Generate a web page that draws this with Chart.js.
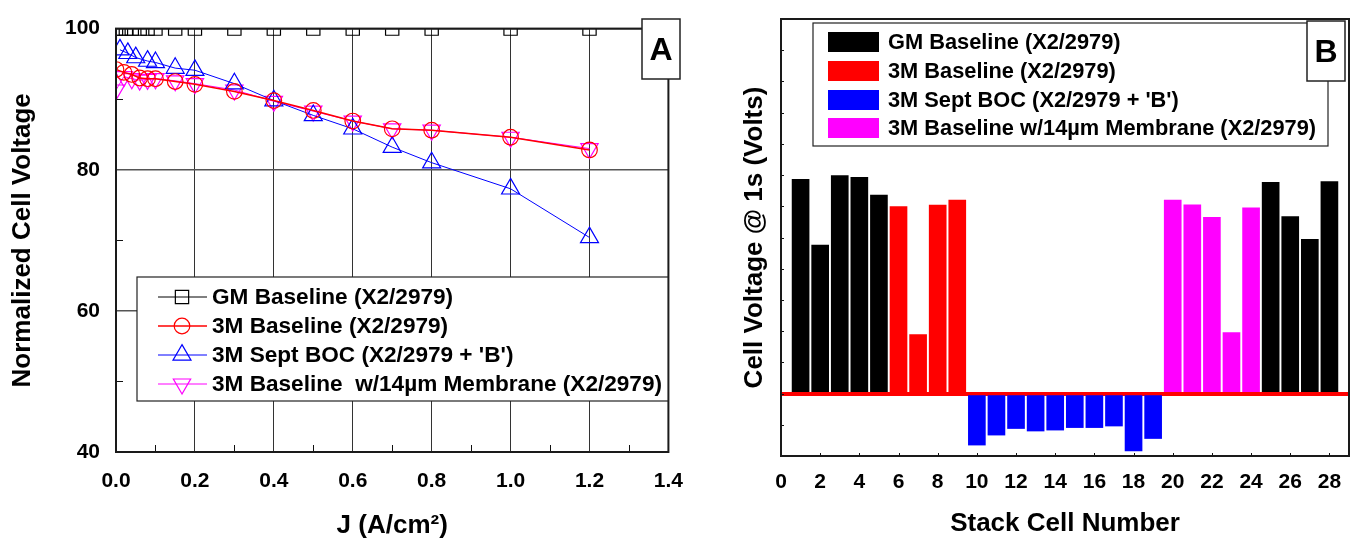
<!DOCTYPE html>
<html>
<head>
<meta charset="utf-8">
<script src="https://cdn.jsdelivr.net/npm/chart.js@4.4.1/dist/chart.umd.min.js"></script>
<style>
  html, body { margin: 0; padding: 0; background: #fff; }
  #wrap { position: relative; width: 1361px; height: 543px; overflow: hidden; }
  #chartA { position: absolute; left: 0; top: 0; }
  #chartB { position: absolute; left: 730px; top: 0; }
</style>
</head>
<body>
<div id="wrap">
  <canvas id="chartA" width="700" height="543"></canvas>
  <canvas id="chartB" width="631" height="543"></canvas>
</div>
<script>
// --- Panel A : normalized cell voltage vs current density ---
const jTicks = [0, 0.1, 0.2, 0.3, 0.4, 0.5, 0.6, 0.7, 0.8, 0.9, 1.0, 1.1, 1.2, 1.3, 1.4];
const jLabelled = [0, 0.2, 0.4, 0.6, 0.8, 1.0, 1.2, 1.4];
const voltTicks = [40, 50, 60, 70, 80, 90, 100];
const voltLabelled = [40, 60, 80, 100];

const gmJ = [0, 0.0125, 0.025, 0.04, 0.06, 0.08, 0.1, 0.15, 0.2, 0.3, 0.4, 0.5, 0.6, 0.7, 0.8, 1.0, 1.2];
const gmV = [100, 100, 100, 100, 100, 100, 100, 100, 100, 100, 100, 100, 100, 100, 100, 100, 100];
const baseJ = [0, 0.02, 0.04, 0.06, 0.08, 0.1, 0.15, 0.2, 0.3, 0.4, 0.5, 0.6, 0.7, 0.8, 1.0, 1.2];
const baseV = [94.2, 93.8, 93.5, 93.0, 92.9, 92.9, 92.5, 92.1, 91.1, 89.8, 88.4, 86.9, 85.8, 85.6, 84.6, 82.8];
const bocJ = [0.01, 0.03, 0.05, 0.08, 0.1, 0.15, 0.2, 0.3, 0.4, 0.5, 0.6, 0.7, 0.8, 1.0, 1.2];
const bocV = [97.0, 96.5, 95.9, 95.4, 95.2, 94.4, 94.1, 92.2, 89.8, 87.7, 85.8, 83.2, 81.0, 77.3, 70.4];
const memJ = [0, 0.02, 0.04, 0.06, 0.08, 0.1, 0.15, 0.2, 0.3, 0.4, 0.5, 0.6, 0.7, 0.8, 1.0, 1.2];
const memV = [91.3, 93.2, 92.9, 92.7, 92.8, 92.9, 92.6, 92.2, 91.3, 89.7, 88.3, 86.9, 85.8, 85.6, 84.6, 83.0];

// --- Panel B : cell voltage per stack cell (arbitrary units, baseline = 0) ---
const cellTicks = [0, 2, 4, 6, 8, 10, 12, 14, 16, 18, 20, 22, 24, 26, 28];
const cellVoltTicks = [-2, -1, 0, 1, 2, 3, 4, 5, 6, 7, 8, 9, 10, 11, 12];
const gmCells = [1, 2, 3, 4, 5, 25, 26, 27, 28];
const gmCellV = [6.86, 4.76, 6.98, 6.93, 6.36, 6.77, 5.67, 4.94, 6.79];
const baseCells = [6, 7, 8, 9];
const baseCellV = [5.99, 1.89, 6.04, 6.20];
const bocCells = [10, 11, 12, 13, 14, 15, 16, 17, 18, 19];
const bocCellV = [-1.65, -1.33, -1.12, -1.20, -1.17, -1.09, -1.09, -1.04, -1.84, -1.44];
const memCells = [20, 21, 22, 23, 24];
const memCellV = [6.20, 6.05, 5.65, 1.95, 5.95];

const FONT = '"Liberation Sans", Arial, Helvetica, sans-serif';
Chart.defaults.font.family = FONT;
Chart.defaults.color = '#000';

const pts = (xs, ys) => xs.map((x, i) => ({ x: x, y: ys[i] }));
const NONE = 'rgba(0,0,0,0)';

// chart border + small inward ticks
const frame = {
    id: 'frame',
    afterDatasetsDraw(chart, args, opts) {
        const { ctx, chartArea: a, scales: { x, y } } = chart;
        ctx.save();
        ctx.strokeStyle = '#111';
        ctx.lineWidth = 1;
        ctx.beginPath();
        x.ticks.forEach(t => {
            if (opts.xMajor.includes(t.value)) return;
            const px = Math.round(x.getPixelForValue(t.value)) + 0.5;
            ctx.moveTo(px, a.bottom);
            ctx.lineTo(px, a.bottom - opts.len);
        });
        y.ticks.forEach(t => {
            if (opts.yMajor.includes(t.value)) return;
            const py = Math.round(y.getPixelForValue(t.value)) + 0.5;
            ctx.moveTo(a.left, py);
            ctx.lineTo(a.left + opts.len, py);
        });
        ctx.stroke();
        ctx.lineWidth = 2;
        ctx.strokeStyle = '#1a1a1a';
        ctx.strokeRect(a.left, a.top, a.right - a.left, a.bottom - a.top);
        ctx.restore();
    }
};

// boxed legend and panel letter
const boxLegend = {
    id: 'boxLegend',
    afterDraw(chart, args, opts) {
        const ctx = chart.ctx;
        ctx.save();
        ctx.fillStyle = '#fff';
        ctx.fillRect(opts.x, opts.y, opts.w, opts.h);
        ctx.strokeStyle = '#222';
        ctx.lineWidth = 1.2;
        ctx.strokeRect(opts.x, opts.y, opts.w, opts.h);
        chart.data.datasets.forEach((ds, i) => {
            const y = opts.rows[i];
            if (opts.kind === 'line') {
                ctx.strokeStyle = ds.borderColor;
                ctx.lineWidth = ds.borderWidth;
                ctx.beginPath();
                ctx.moveTo(opts.lineX[0], y);
                ctx.lineTo(opts.lineX[1], y);
                ctx.stroke();
                ctx.fillStyle = NONE;
                ctx.lineWidth = ds.pointBorderWidth;
                Chart.helpers.drawPoint(ctx, {
                    pointStyle: ds.pointStyle,
                    rotation: ds.pointRotation || 0,
                    radius: ds.pointRadius,
                    borderWidth: ds.pointBorderWidth
                }, opts.markX, y);
            } else {
                ctx.fillStyle = ds.backgroundColor;
                ctx.fillRect(opts.swX, y - opts.swH / 2, opts.swW, opts.swH);
            }
            ctx.fillStyle = '#000';
            ctx.font = 'bold ' + opts.size + 'px ' + FONT;
            ctx.textBaseline = 'middle';
            ctx.textAlign = 'left';
            ctx.fillText(ds.label, opts.textX, y + 1);
        });
        const t = opts.tag;
        ctx.fillStyle = '#fff';
        ctx.fillRect(t.x, t.y, t.w, t.h);
        ctx.strokeStyle = '#222';
        ctx.lineWidth = 1.5;
        ctx.strokeRect(t.x, t.y, t.w, t.h);
        ctx.fillStyle = '#000';
        ctx.font = 'bold 32px ' + FONT;
        ctx.textAlign = 'center';
        ctx.textBaseline = 'middle';
        ctx.fillText(t.text, t.x + t.w / 2, t.y + t.h / 2 + 2);
        ctx.restore();
    }
};

const tickFont = { size: 21, weight: 'bold' };
const titleFont = { size: 26, weight: 'bold' };

new Chart(document.getElementById('chartA'), {
    type: 'line',
    data: {
        datasets: [
            {
                label: 'GM Baseline (X2/2979)',
                data: pts(gmJ, gmV),
                borderColor: '#000', borderWidth: 1,
                pointStyle: 'rect', pointRadius: 9.4, pointBorderWidth: 1.2,
                pointBorderColor: '#000', pointBackgroundColor: NONE,
                clip: 0
            },
            {
                label: '3M Baseline (X2/2979)',
                data: pts(baseJ, baseV),
                borderColor: '#ff0000', borderWidth: 1.5,
                pointStyle: 'circle', pointRadius: 7.8, pointBorderWidth: 1.2,
                pointBorderColor: '#ff0000', pointBackgroundColor: NONE
            },
            {
                label: "3M Sept BOC (X2/2979 + 'B')",
                data: pts(bocJ, bocV),
                borderColor: '#0000ff', borderWidth: 1,
                pointStyle: 'triangle', pointRadius: 10.4, pointBorderWidth: 1.2,
                pointBorderColor: '#0000ff', pointBackgroundColor: NONE
            },
            {
                label: '3M Baseline  w/14\u00b5m Membrane (X2/2979)',
                data: pts(memJ, memV),
                borderColor: '#ff00ff', borderWidth: 1,
                pointStyle: 'triangle', pointRotation: 180, pointRadius: 10, pointBorderWidth: 1.2,
                pointBorderColor: '#ff00ff', pointBackgroundColor: NONE
            }
        ]
    },
    options: {
        responsive: false,
        animation: false,
        events: [],
        layout: { padding: { top: 15, right: 16, left: 0, bottom: 0 } },
        plugins: {
            legend: { display: false },
            tooltip: { enabled: false },
            frame: { xMajor: jLabelled, yMajor: voltLabelled, len: 7 },
            boxLegend: {
                kind: 'line', x: 137, y: 277, w: 531, h: 124,
                rows: [297, 326, 355, 384], lineX: [158, 207], markX: 182, textX: 212, size: 22.6,
                tag: { text: 'A', x: 642, y: 19, w: 38, h: 60 }
            }
        },
        scales: {
            x: {
                type: 'linear', min: 0, max: 1.4,
                afterBuildTicks: s => { s.ticks = jTicks.map(v => ({ value: v })); },
                afterFit: s => { s.height = 91; },
                border: { display: false },
                grid: {
                    drawTicks: false,
                    lineWidth: 1,
                    color: c => (c.tick && jLabelled.includes(c.tick.value)) ? '#333' : NONE
                },
                ticks: {
                    autoSkip: false, maxRotation: 0, padding: 17, font: tickFont,
                    callback: v => jLabelled.includes(v) ? v.toFixed(1) : ''
                },
                title: { display: true, text: 'J (A/cm\u00b2)', font: titleFont, padding: { top: 0, bottom: 2 } }
            },
            y: {
                min: 40, max: 100,
                afterBuildTicks: s => { s.ticks = voltTicks.map(v => ({ value: v })); },
                afterFit: s => { s.width = 116; },
                border: { display: false },
                grid: {
                    drawTicks: false,
                    lineWidth: 1.5,
                    color: c => (c.tick && voltLabelled.includes(c.tick.value)) ? '#555' : NONE
                },
                ticks: {
                    autoSkip: false, padding: 16, font: tickFont,
                    callback: v => voltLabelled.includes(v) ? String(v) : ''
                },
                title: { display: true, text: 'Normalized Cell Voltage', font: titleFont, padding: { top: 7, bottom: 0 } }
            }
        }
    },
    plugins: [frame, boxLegend]
});

new Chart(document.getElementById('chartB'), {
    type: 'bar',
    data: {
        datasets: [
            { label: 'GM Baseline (X2/2979)', data: pts(gmCells, gmCellV), backgroundColor: '#000000' },
            { label: '3M Baseline (X2/2979)', data: pts(baseCells, baseCellV), backgroundColor: '#ff0000' },
            { label: "3M Sept BOC (X2/2979 + 'B')", data: pts(bocCells, bocCellV), backgroundColor: '#0000ff' },
            { label: '3M Baseline w/14\u00b5m Membrane (X2/2979)', data: pts(memCells, memCellV), backgroundColor: '#ff00ff' }
        ]
    },
    options: {
        responsive: false,
        animation: false,
        events: [],
        grouped: false,
        barThickness: 17,
        borderWidth: 0,
        layout: { padding: { top: 19, right: 12, left: 0, bottom: 0 } },
        plugins: {
            legend: { display: false },
            tooltip: { enabled: false },
            frame: { xMajor: [], yMajor: [], len: 3 },
            boxLegend: {
                kind: 'box', x: 83, y: 23, w: 515, h: 123,
                rows: [42, 71, 100, 128], swX: 98, swW: 51, swH: 20, textX: 158, size: 21.8,
                tag: { text: 'B', x: 577, y: 21, w: 38, h: 60 }
            }
        },
        scales: {
            x: {
                type: 'linear', min: 0, max: 29, offset: false,
                afterBuildTicks: s => { s.ticks = cellTicks.map(v => ({ value: v })); },
                afterFit: s => { s.height = 87; },
                border: { display: false },
                grid: { display: false, drawTicks: false, offset: false },
                ticks: { autoSkip: false, maxRotation: 0, padding: 14, font: tickFont },
                title: { display: true, text: 'Stack Cell Number', font: titleFont, padding: { top: 0, bottom: 4 } }
            },
            y: {
                min: -2, max: 12, z: 1,
                afterBuildTicks: s => { s.ticks = cellVoltTicks.map(v => ({ value: v })); },
                afterFit: s => { s.width = 51; },
                border: { display: false },
                grid: {
                    drawTicks: false,
                    color: c => (c.tick && c.tick.value === 0) ? '#ff0000' : NONE,
                    lineWidth: c => (c.tick && c.tick.value === 0) ? 4 : 1
                },
                ticks: { display: false },
                title: { display: true, text: 'Cell Voltage @ 1s (Volts)', font: titleFont, padding: { top: 9, bottom: 0 } }
            }
        }
    },
    plugins: [frame, boxLegend]
});
</script>
</body>
</html>
